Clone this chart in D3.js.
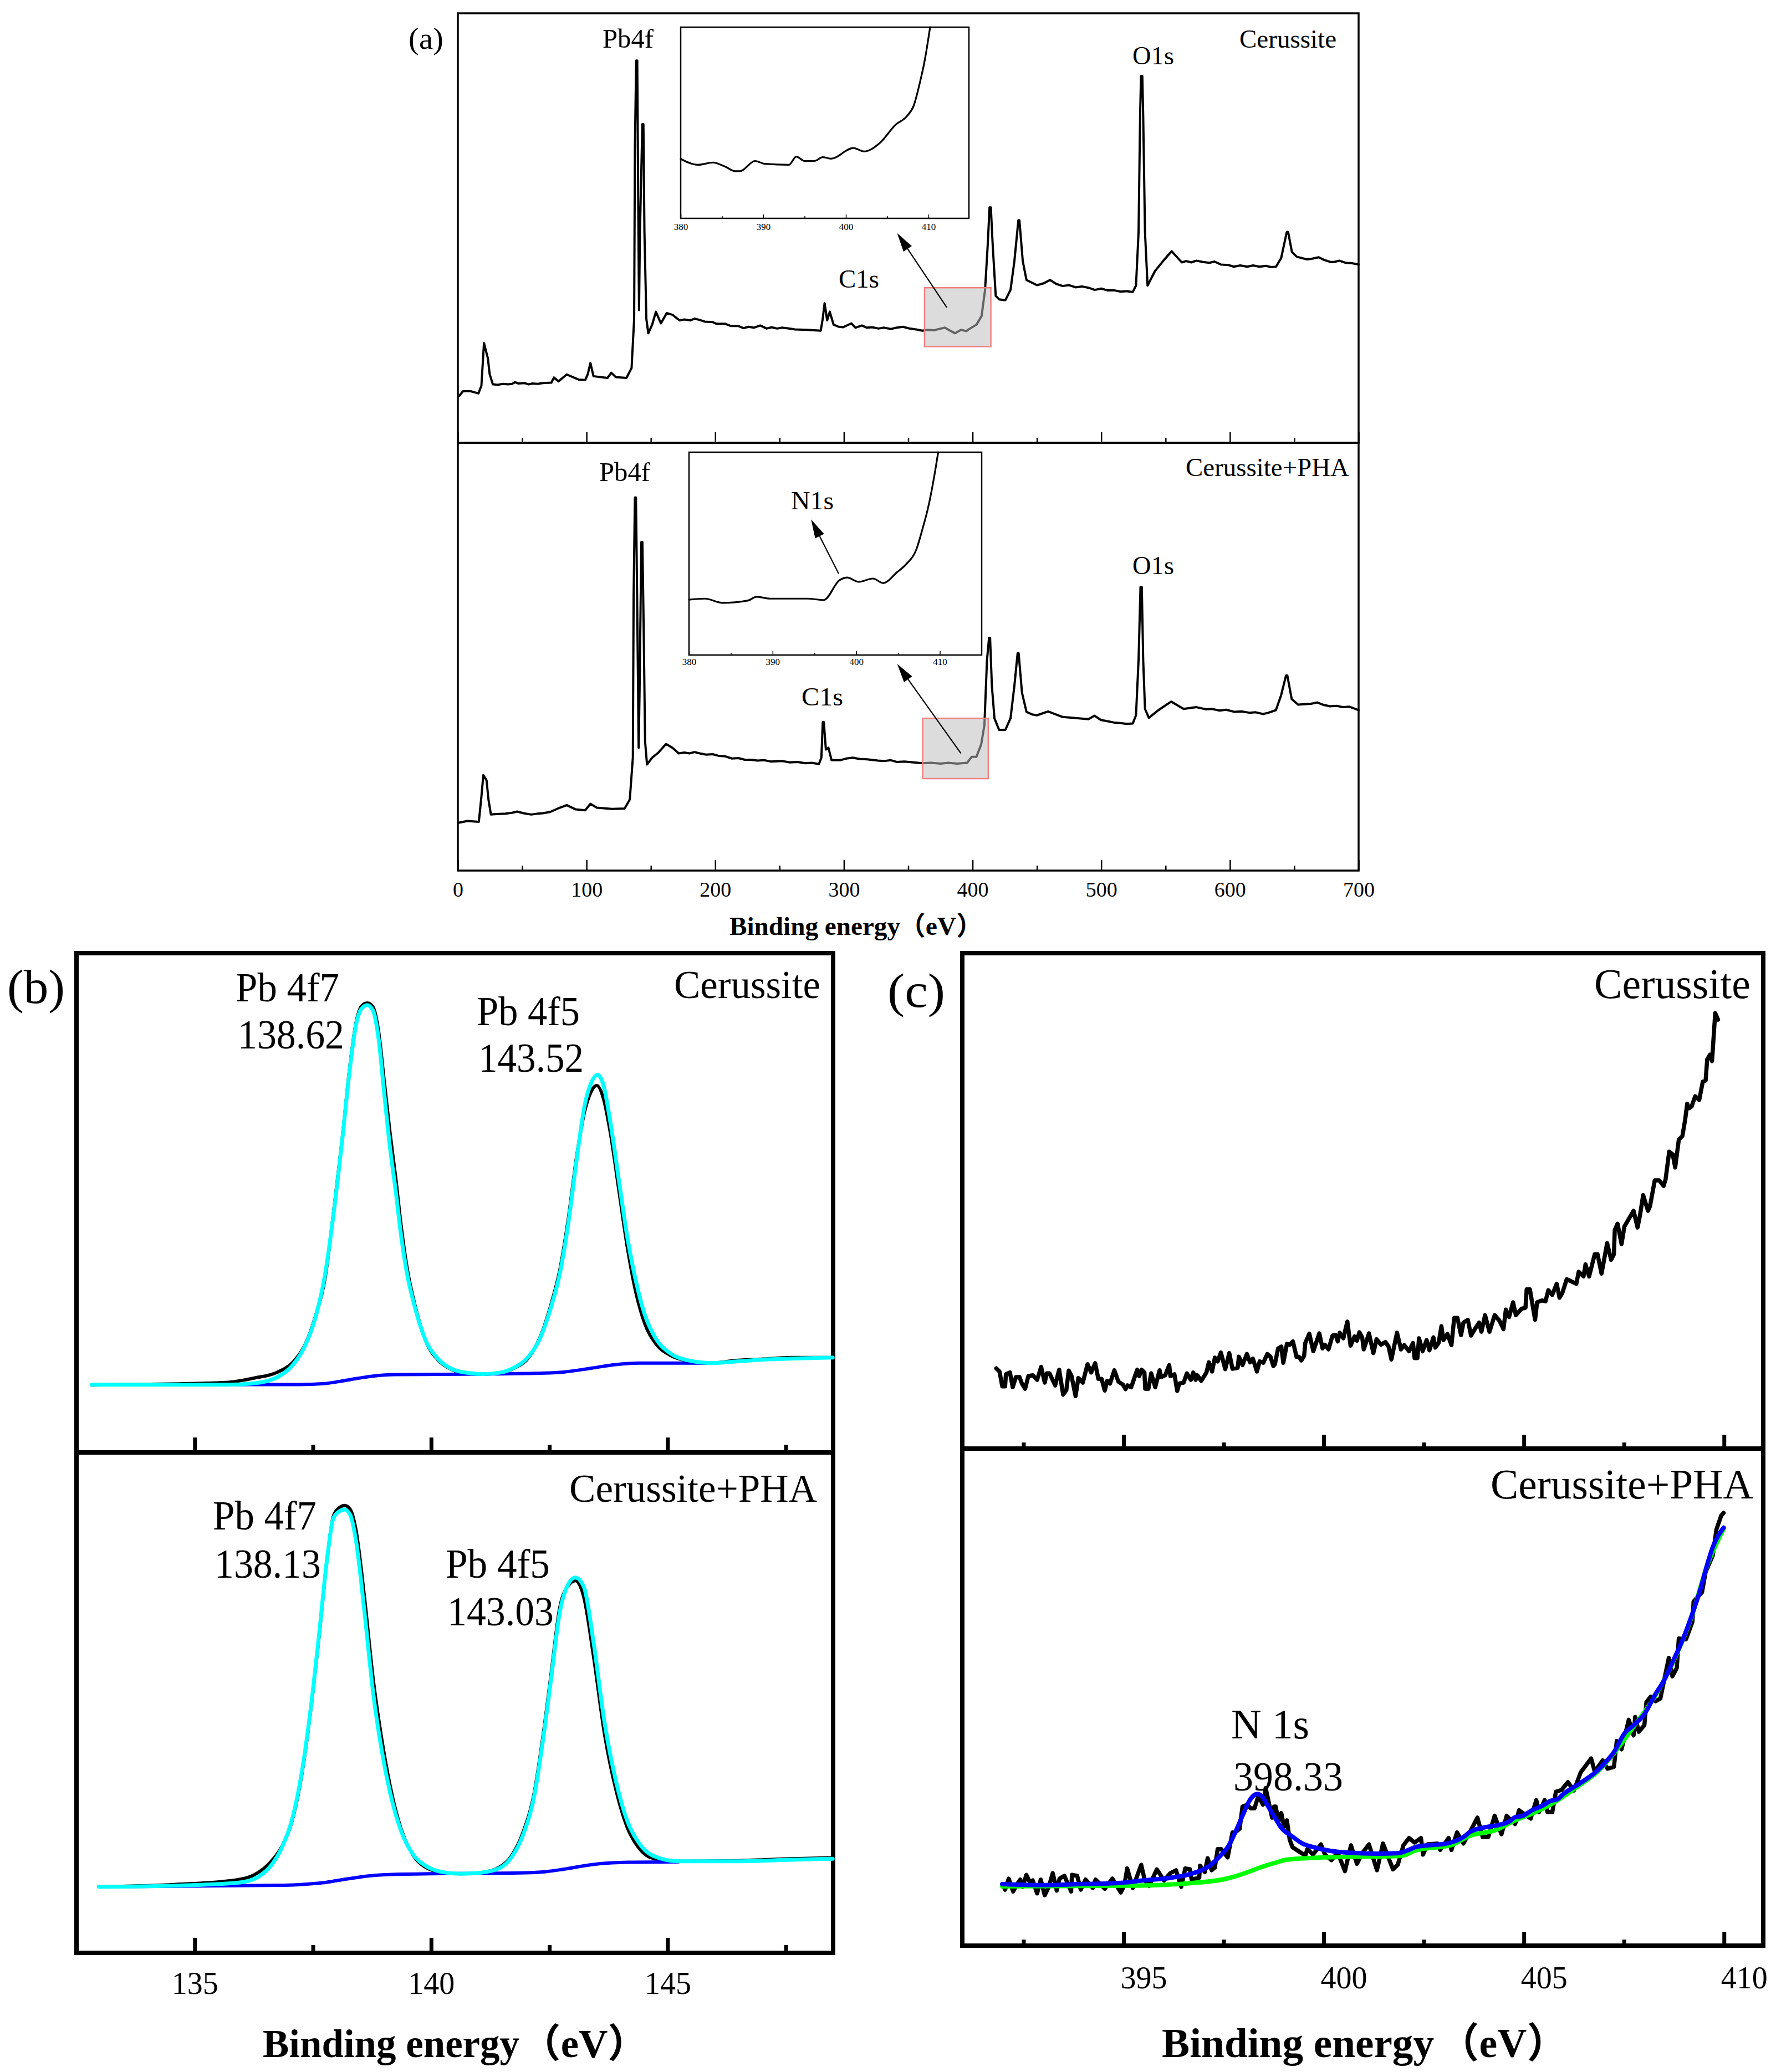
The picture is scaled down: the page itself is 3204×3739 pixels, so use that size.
<!DOCTYPE html>
<html>
<head>
<meta charset="utf-8">
<script src="https://cdn.jsdelivr.net/npm/d3@7"></script>
<style>
  body { margin: 0; background: #fff; }
  text { font-family: "Liberation Serif", "Noto Sans CJK SC", serif; fill: #000; }
</style>
</head>
<body>
<svg id="chart" width="3204" height="3739"></svg>
<script>
// (a) survey spectra, [eV, a.u.]
const surveyCerussite = [[1,10.9],[4,12],[10,12],[16,11.5],[18.3,13.3],[20.3,23.2],[23.3,19.7],[24.7,16],[27.2,13.6],[31,13.5],[35,13.7],[39,13.6],[42,13.7],[44.5,14.1],[47,13.8],[52,13.9],[55,13.6],[58,13.8],[62,13.7],[66,13.9],[72.7,14],[74.7,15.2],[78.2,14.3],[84.6,15.9],[94,14.7],[99,14.6],[101,16],[103,18.6],[105.4,15.5],[116.3,15.1],[119.2,16.3],[122.7,15.3],[131,15.1],[135,17.4],[137,28.8],[137.6,69],[138.6,89],[139.4,89],[140.2,55],[140.8,30.9],[141.5,49],[143.4,74.2],[144.2,74.2],[145,49],[146.5,28.8],[148,25.5],[151,27.5],[153.9,30.5],[157.8,27.8],[162.3,30.2],[166.8,29.8],[172.2,28.5],[176,28.7],[180.6,28.5],[184,28.9],[188,28.6],[192,28.2],[198,28.1],[201,27.7],[207.8,27.7],[212,27.2],[217.7,27.2],[222,26.7],[226,27],[230,26.8],[235,27.3],[240,26.6],[244,26.9],[248,26.6],[252,26.8],[257.3,26.6],[262,26.4],[272,26.3],[282,26.1],[283.5,28.8],[285,32.5],[287,28.5],[289,30.5],[292,27.5],[296,27],[299.4,26.9],[305.8,27.8],[309,26.8],[314,27.3],[317.7,26.8],[322,26.9],[327,26.6],[331,26.8],[336.5,26.5],[341,26.8],[346,27],[351,26.6],[356,26.4],[361,26.1],[365,26.3],[370,26.2],[374,26.5],[378.5,26.8],[382,26.2],[386.4,25.5],[391,26.3],[395,26],[398,26.6],[403,27.5],[407,29.5],[409.7,35.6],[411.7,45.7],[413.2,54.8],[414.2,54.8],[415.7,45.7],[418,34.2],[420.6,33.4],[425.5,33.2],[429.5,35.6],[432.5,42.3],[435.6,51.8],[436.4,51.8],[439,42.3],[441.9,37.9],[450,36.7],[455,37.1],[460.2,37.9],[465,37],[470,36.5],[475,36.7],[480,36.2],[485,36.4],[490,36.1],[495,35.6],[500,35.9],[504.7,35.5],[510,35.5],[515,35.2],[520,35.3],[524.5,35.1],[527,36.6],[529,49],[530.2,76],[530.9,85.4],[531.9,85.4],[532.6,76],[534,49],[536,36.6],[541.8,40],[548,42.3],[554.7,44.6],[562.6,42],[566,42.3],[570,42],[574,42.4],[579,42.1],[584,41.9],[588,42.2],[593,41.5],[598.7,41.4],[603,41],[608,41.3],[613.5,41],[618,41.3],[623,41],[628,41.2],[632,40.9],[635.8,41],[639.8,43],[644.2,49.1],[645.2,49.1],[648.2,44.4],[652,43.3],[656,43],[660,42.7],[663,42.8],[669,43.2],[673,42.6],[678,42.1],[681,42.1],[685,42.4],[690,41.9],[695,41.8],[700,41.5]];
const surveyPha = [[1,11.2],[7.4,11.6],[16.3,11.4],[18.3,17.3],[19.8,22.3],[22.3,21.1],[23.8,16.6],[25.7,13.1],[30,13.2],[37,13.3],[42,13.5],[46,13.8],[51,13.4],[57,13.1],[62,13.3],[66,13.4],[71.7,13.7],[79.2,14.7],[84.6,15.3],[91.6,14.3],[99,14.1],[103,15.6],[108,14.7],[119.8,14.4],[129.6,14.5],[133.6,16.6],[136,26.4],[136.6,64.4],[137.6,87.2],[138.4,87.2],[139.3,64.4],[140.5,28.7],[141.2,41.6],[142.6,76.8],[143.4,76.8],[144.4,56.8],[145.5,30.2],[147,24.8],[151,26.4],[155.9,27.6],[161.8,29.6],[166.8,28.7],[171.7,27.4],[176,27.6],[180,27.4],[184,27.7],[188,27.4],[193,27.1],[198,27.2],[203,26.8],[207.8,26.7],[213,26.2],[218,26.3],[223,25.9],[227.6,25.9],[233,25.7],[238,25.8],[243,25.5],[252.3,25.6],[258,25.3],[264,25.4],[270,25.1],[275,25.2],[280.6,24.9],[282.5,26.4],[283.6,34.7],[284.4,34.7],[286,28.3],[288,28.7],[290.4,25.8],[297,25.8],[302,26.2],[306.8,26.4],[312,26.1],[318,26],[326.5,25.7],[331,25.6],[336.5,25.8],[341,25.4],[347,25.5],[354,25.3],[361,25.1],[368,25.2],[375,25],[381,25.2],[388,25],[395.8,25.2],[399.3,26.6],[403,26.6],[406.7,29.5],[409.2,34],[411.2,49.2],[412.8,54.4],[413.6,54.4],[415,43.2],[417,35.6],[420.6,32.9],[425.5,32.9],[429.5,35.6],[432.5,43.2],[435,50.8],[435.8,50.8],[438.4,41.6],[441.9,37.1],[446.3,36.5],[450,36.3],[458.7,37.2],[470,35.9],[490,35.4],[494.8,36.2],[499.7,35.2],[505,34.9],[510,34.6],[514.5,34.5],[520,34.3],[524.5,34.4],[527,36.3],[529,49.2],[530.5,66.3],[531.5,66.3],[532.6,49.2],[534,37.8],[537,35.7],[544.4,37.5],[554.3,39.5],[564,37.8],[574,38.2],[581.4,37.7],[586,37.8],[592,37.4],[597,37.6],[603.6,37.1],[609,37.2],[615,36.9],[620,37],[625.8,36.6],[630,36.9],[635.7,37.5],[639.7,40.9],[643.6,45.6],[644.6,45.6],[648,40.1],[653,38.8],[658,38.9],[663,39],[667.8,39.3],[672,38.8],[677.6,38.4],[683,38.5],[688,38.2],[693,38.3],[700,37.5]];
const insetCerussite = [[380,31.1],[382.1,28],[383.9,29.2],[385.4,27],[386.6,24.7],[387.2,24.7],[389,30],[390.2,28.5],[393.1,28],[394,32.3],[395,30],[396.2,30],[397.2,32],[398.2,31.2],[400.9,36.8],[402.2,35],[404.2,39.8],[406,48.9],[407.4,53.5],[408.2,58.8],[409,71.7],[409.6,83.8],[410,94.4],[410.2,100]];
const insetPha = [[380,27.3],[381.9,27.8],[384,25.7],[387,26.8],[388.1,28.7],[389.7,27.8],[394.2,27.8],[396.1,27.1],[398,36.9],[398.9,38.2],[400.3,36.1],[402,37.7],[403.2,35.5],[404.9,40.9],[406,44.9],[407.2,52.2],[407.9,61.8],[408.7,74.6],[409.3,87.5],[409.8,100]];

// (b) Pb 4f spectra
const pbCerussiteRaw = [[132.82,13.5],[134.46,13.7],[135.66,14],[136.26,14.9],[136.73,16],[137.09,18.2],[137.33,21.5],[137.57,27.8],[137.75,34.6],[137.93,47.6],[138.11,62],[138.29,78],[138.41,86],[138.53,89.4],[138.65,90],[138.77,89.2],[138.89,84.2],[139,75],[139.13,64],[139.25,55],[139.37,45],[139.49,37],[139.67,29],[139.9,22],[140.14,18.6],[140.44,16.6],[140.8,15.8],[141.1,15.7],[141.46,16],[141.76,16.9],[142.06,19],[142.3,23],[142.54,29.8],[142.72,36.5],[142.9,46.8],[143.08,59.5],[143.25,68.5],[143.37,72],[143.5,73.5],[143.64,71],[143.79,64],[143.97,52.5],[144.15,41],[144.33,32],[144.51,26],[144.75,21.8],[145.05,19.5],[145.41,18.4],[145.95,17.9],[146.42,18.4],[147.02,18.7],[147.62,19],[148.49,19]];
const pbCerussiteFit = [[132.82,13.56],[134.46,13.56],[135.66,13.56],[136.26,13.85],[136.73,15],[137.09,17.7],[137.33,21.3],[137.57,27.6],[137.75,35.3],[137.93,47.3],[138.11,61.8],[138.29,77.6],[138.41,85.6],[138.53,88.9],[138.65,89.6],[138.77,88.5],[138.89,82.7],[139,72.6],[139.13,61],[139.25,52.4],[139.37,43],[139.49,35.8],[139.67,28.6],[139.9,22.1],[140.14,18.8],[140.44,16.7],[140.8,15.9],[141.1,15.7],[141.46,16],[141.76,17],[142.06,19.2],[142.3,22.8],[142.54,29.3],[142.72,35.8],[142.9,45.9],[143.08,58.9],[143.25,69.7],[143.37,73.7],[143.52,75.6],[143.64,73.7],[143.79,66.1],[143.97,54.5],[144.15,43],[144.33,34.3],[144.51,27.8],[144.75,22.8],[145.05,19.9],[145.41,18.5],[145.95,17.9],[146.42,18.2],[147.02,18.6],[147.62,18.8],[148.49,19]];
const pbCerussiteBase = [[132.82,13.56],[137.2,13.6],[137.75,13.8],[138.05,14.2],[138.29,14.6],[138.77,15.3],[139.25,15.6],[141,15.7],[142.4,15.9],[142.8,16.1],[143.4,16.9],[143.9,17.6],[144.4,17.9],[145.8,17.9]];
const pbPhaRaw = [[132.97,13.2],[134.46,13.6],[135.9,14.6],[136.26,15.6],[136.61,18.2],[136.85,21.4],[137.09,27.5],[137.27,36],[137.45,48.3],[137.63,63.3],[137.81,79.6],[137.93,87.2],[138.05,88.9],[138.17,89.4],[138.29,88.6],[138.41,84.5],[138.59,71],[138.77,55],[138.95,43],[139.13,33.5],[139.37,24.6],[139.6,19.8],[139.9,17],[140.26,16],[140.62,15.8],[141.04,16],[141.46,17.2],[141.7,19.4],[141.94,24],[142.18,32],[142.36,43],[142.54,56],[142.72,69],[142.87,73],[143.05,74.4],[143.23,71],[143.43,59.5],[143.67,43.5],[143.91,32.5],[144.15,25],[144.39,21],[144.69,18.9],[145.23,18.3],[146.42,18.4],[147.62,18.8],[148.49,19]];
const pbPhaFit = [[132.97,13.2],[134.46,13.4],[135.9,14],[136.26,14.8],[136.61,17.4],[136.85,21.2],[137.09,27.8],[137.27,36.4],[137.45,48.6],[137.63,63.7],[137.81,79.6],[137.93,86.8],[138.05,88.2],[138.17,88.6],[138.29,87.5],[138.41,82.4],[138.59,68.1],[138.77,52.2],[138.95,40.7],[139.13,32.1],[139.37,24.2],[139.6,19.9],[139.9,17.3],[140.26,16.1],[140.62,15.8],[141.04,16],[141.46,17],[141.7,19.1],[141.94,23.5],[142.18,31.4],[142.36,42.2],[142.54,55.1],[142.72,68.1],[142.87,73.1],[143.05,75],[143.23,73.1],[143.43,62.3],[143.67,45.8],[143.91,34.2],[144.15,26.3],[144.39,22],[144.69,19.4],[145.23,18.3],[146.42,18.3],[147.62,18.6],[148.49,18.8]];
const pbPhaBase = [[132.97,13.2],[136.9,13.5],[137.33,13.7],[137.7,14],[138.05,14.5],[138.7,15.4],[139.25,15.7],[142,16],[142.4,16.2],[142.72,16.6],[143.55,17.8],[144.15,18.1],[145.23,18.2]];

// (c) N 1s spectra
const nCerussiteRaw = [[391.82,144.7],[391.9,139],[391.97,112.3],[392.04,112.3],[392.06,134],[392.16,137.3],[392.23,110.7],[392.31,129],[392.4,129],[392.46,117.3],[392.54,108],[392.62,130.7],[392.73,132.3],[392.84,124],[392.94,147.3],[393.03,119],[393.08,135.7],[393.15,135.7],[393.29,114],[393.39,142.3],[393.49,97.3],[393.57,105.7],[393.63,140.7],[393.7,130.7],[393.8,94.7],[393.87,127.3],[393.98,119],[394.1,152.3],[394.19,137.3],[394.29,154],[394.37,125.7],[394.45,125.7],[394.53,104.7],[394.59,122.3],[394.66,117.3],[394.77,141.3],[394.87,120.7],[394.98,115.7],[395.05,107.3],[395.1,114],[395.19,110.7],[395.34,142.3],[395.39,130.7],[395.45,142.3],[395.52,137.3],[395.54,108],[395.62,108],[395.69,135.7],[395.79,110.7],[395.9,141.3],[395.94,129],[396.04,132.3],[396.14,150.7],[396.17,130.7],[396.27,134],[396.34,104],[396.39,117.3],[396.5,119],[396.58,135.7],[396.68,124],[396.74,137.3],[396.8,124],[396.84,132.3],[396.94,122.3],[397.07,137.3],[397.13,155.7],[397.21,139],[397.28,164],[397.35,157.3],[397.43,173.3],[397.54,143.3],[397.64,172.3],[397.72,144],[397.85,145.7],[397.88,165.7],[397.97,150.7],[398.08,170.7],[398.16,155.7],[398.23,162.3],[398.33,139],[398.4,157.3],[398.49,154.7],[398.59,170.7],[398.67,165.7],[398.74,149],[398.78,152.3],[398.86,180.7],[398.94,184],[398.99,154.7],[399.08,189],[399.15,187.3],[399.23,193.3],[399.32,165.7],[399.38,165.7],[399.44,159],[399.51,167.3],[399.54,190.7],[399.64,207.3],[399.74,175.7],[399.89,208],[399.97,180.7],[400.03,187.3],[400.12,179],[400.22,204],[400.3,204.7],[400.35,193.3],[400.4,209],[400.49,199],[400.59,229],[400.67,185.7],[400.77,202.3],[400.83,194.7],[400.89,210],[400.96,200.7],[401,179],[401.13,208],[401.24,172.3],[401.32,197.3],[401.43,187.3],[401.54,192.3],[401.62,184],[401.69,160.7],[401.83,209],[401.93,179],[402.01,186.7],[402.13,175.7],[402.23,190.7],[402.27,163.3],[402.34,163.3],[402.38,199],[402.47,175.7],[402.57,195.7],[402.64,177.3],[402.74,200.7],[402.79,182.3],[402.87,190.7],[402.94,220.7],[402.99,195.7],[403.09,206.7],[403.19,186.7],[403.26,235.7],[403.34,235.7],[403.43,204.7],[403.49,227.3],[403.6,232.3],[403.68,204],[403.79,217.3],[403.88,227.3],[403.94,210.7],[404.03,240.7],[404.14,210.7],[404.27,240.7],[404.39,230.7],[404.49,215.7],[404.55,250.7],[404.63,237.3],[404.73,264],[404.8,240.7],[404.94,252.3],[405.04,254],[405.07,287.3],[405.15,287.3],[405.28,232.3],[405.33,264],[405.45,267.3],[405.54,265.7],[405.61,285.7],[405.71,277.3],[405.82,297.3],[405.89,272.3],[405.96,280.7],[406.07,305.7],[406.31,297.3],[406.37,319],[406.49,310.7],[406.54,332.3],[406.63,310.7],[406.77,350.7],[406.84,350.7],[406.94,315.7],[407.08,370.7],[407.18,340.7],[407.25,350.7],[407.27,394],[407.34,405.7],[407.44,369],[407.51,400.7],[407.74,429],[407.84,399],[407.9,420.7],[407.98,457.3],[408.1,429],[408.15,437.3],[408.27,484],[408.38,484],[408.49,474],[408.54,485.7],[408.63,535.7],[408.72,530.7],[408.78,507.3],[408.87,557.3],[408.96,564],[409.03,594],[409.08,622.3],[409.12,614],[409.19,617.3],[409.28,635.7],[409.38,629],[409.47,662.3],[409.54,664],[409.58,702.3],[409.65,710.7],[409.7,699],[409.78,785.7],[409.85,774]];
const nPhaRaw = [[391.97,111],[392.04,101],[392.13,121],[392.24,97.7],[392.34,111],[392.42,119.3],[392.48,106],[392.57,127.7],[392.66,114.3],[392.73,117.7],[392.84,94.3],[392.93,119.3],[393.03,91],[393.13,106],[393.23,131],[393.33,99.3],[393.4,121],[393.52,126],[393.69,97.7],[393.71,127.7],[393.84,126],[393.93,101],[394.05,119.3],[394.23,104.3],[394.3,119.3],[394.53,102.7],[394.72,121],[394.93,96],[395.02,109.3],[395.09,139.3],[395.23,104.3],[395.44,146],[395.53,117.7],[395.64,107.7],[395.83,137.7],[396.01,117.7],[396.17,131],[396.31,136],[396.44,106],[396.54,139.3],[396.66,137.7],[396.7,119.3],[396.89,122.7],[396.91,144.3],[397.03,132.7],[397.1,157.7],[397.2,136],[397.28,141],[397.35,174.3],[397.44,174.3],[397.6,159.3],[397.72,204.3],[397.79,204.3],[397.9,211],[397.97,251],[398.09,254.3],[398.18,247.7],[398.27,247.7],[398.37,271],[398.48,254.3],[398.55,284.3],[398.64,254.3],[398.71,231],[398.76,251],[398.8,251],[398.87,224.3],[398.94,239.3],[399.01,214.3],[399.08,226],[399.15,191],[399.22,177.7],[399.36,171],[399.54,162.7],[399.59,174.3],[399.73,164.3],[399.93,182.7],[400.03,164.3],[400.19,154.3],[400.35,167.7],[400.53,134.3],[400.68,181],[400.83,147.7],[400.97,167.7],[401.13,182.7],[401.33,136],[401.48,184.3],[401.73,137.7],[401.85,146],[401.99,181],[402.13,194.3],[402.27,186],[402.43,194.3],[402.48,164.3],[402.59,182.7],[402.84,184.3],[402.91,172.7],[403.12,194.3],[403.19,172.7],[403.33,204.3],[403.49,184.3],[403.67,207.7],[403.84,231],[403.97,196],[404.11,196],[404.27,234.3],[404.44,201],[404.57,234.3],[404.78,219.3],[404.88,244.3],[405.17,229.3],[405.31,262.7],[405.38,241],[405.52,262.7],[405.59,241],[405.71,241],[405.8,277.7],[405.94,281],[406.1,295],[406.25,280],[406.42,312.7],[406.68,337.7],[406.77,314.3],[406.97,334.3],[407.09,319.3],[407.25,322.7],[407.32,369.3],[407.44,354.3],[407.62,407.7],[407.74,379.3],[407.78,412.7],[407.87,386],[408.01,397.7],[408.06,439.3],[408.17,449.3],[408.29,441],[408.41,446],[408.5,477.7],[408.62,519.3],[408.71,486],[408.82,501],[408.87,554.3],[409.05,552.7],[409.21,584.3],[409.24,621],[409.45,637.7],[409.54,674.3],[409.72,704.3],[409.81,751],[409.93,776],[409.99,781]];
const nPhaFit = [[391.97,111],[392.97,109.3],[393.89,111],[394.81,112.7],[395.5,117.7],[396.2,122.7],[396.75,131],[397.12,142.7],[397.4,161],[397.63,181],[397.81,207.7],[397.97,234.3],[398.14,261],[398.25,271],[398.34,273.7],[398.46,269.3],[398.6,252.7],[398.78,231],[398.96,211],[399.2,197.7],[399.47,184.3],[399.75,177.7],[400.17,171],[400.63,167.7],[401.32,166],[401.83,166.7],[402.06,171],[402.33,178.7],[403.07,184.3],[403.49,196],[403.67,206],[404.09,214.3],[404.37,217.7],[404.64,224.3],[404.78,231.7],[404.97,234.3],[405.2,244.3],[405.47,252.7],[405.66,261],[405.84,264.3],[405.97,272.7],[406.4,293],[406.81,314.3],[407.04,331],[407.25,349.3],[407.51,382.7],[407.74,397.7],[408.01,417.7],[408.29,454.3],[408.52,481],[408.71,511],[408.98,554.3],[409.17,591],[409.4,641],[409.58,687.7],[409.72,719.3],[409.99,754.3]];
const nPhaBase = [[391.97,107],[393.89,107.7],[395.27,108.3],[396.66,112.7],[397.58,121],[398.04,131],[398.41,141],[398.78,149.3],[399.06,155],[399.7,158.3],[400.63,160.3],[401.92,161.7],[402.33,172.7],[403.17,181],[403.63,197.7],[404.32,209.3],[404.78,226],[405.24,239.3],[405.7,256],[406.4,290],[406.81,312],[407.25,347],[407.74,395],[408.29,452],[408.71,509],[409.17,589],[409.58,686],[409.99,752]];

const surveyTicks = d3.range(0, 701, 100);
const surveyMinor = d3.range(50, 700, 100);
const insetTicks = [380, 390, 400, 410];
const insetMinor = [385, 395, 405];
const pbTicks = [135, 140, 145];
const pbMinor = [137.5, 142.5, 147.5];
const nTicks = [395, 400, 405, 410];
const nMinor = [392.5, 397.5, 402.5, 407.5];
const axisWords = 'Binding energy';
const axisUnit = '（eV）';

const svg = d3.select('#chart');
svg.append('rect').attr('width', 3204).attr('height', 3739).attr('fill', '#fff');

const label = (txt, x, y, size, width, weight) => {
    const t = svg.append('text')
        .attr('x', x).attr('y', y)
        .style('font-size', `${size}px`)
        .text(txt);
    if (width) t.attr('textLength', width).attr('lengthAdjust', 'spacingAndGlyphs');
    if (weight) t.style('font-weight', weight);
    return t;
};

// frame + inward ticks for one panel, returns scales and group
const panel = (box, xDomain, yDomain, major, minor, o) => {
    const x = d3.scaleLinear().domain(xDomain).range([box.x0, box.x1]);
    const y = d3.scaleLinear().domain(yDomain).range([box.y1, box.y0]);
    const g = svg.append('g');
    const tickAxis = (values, size, width) => {
        const a = g.append('g')
            .attr('transform', `translate(0,${box.y1})`)
            .call(d3.axisTop(x).tickValues(values).tickSize(size).tickFormat(''));
        a.select('.domain').remove();
        a.selectAll('line').attr('stroke', '#000').attr('stroke-width', width);
    };
    tickAxis(major, o.majorLen, o.tickWidth);
    tickAxis(minor, o.minorLen, o.tickWidth);
    g.append('rect')
        .attr('x', box.x0).attr('y', box.y0)
        .attr('width', box.x1 - box.x0).attr('height', box.y1 - box.y0)
        .attr('fill', 'none').attr('stroke', '#000').attr('stroke-width', o.frame);
    return { x, y, g, box };
};

const tickLabels = (p, values, baseline, size, shift, fill) => {
    const a = p.g.append('g')
        .attr('transform', `translate(${shift},${baseline})`)
        .call(d3.axisBottom(p.x).tickValues(values).tickSize(0).tickFormat(d3.format('d')));
    a.select('.domain').remove();
    a.selectAll('text')
        .attr('y', 0).attr('dy', 0)
        .style('font-size', `${size}px`)
        .style('font-family', '"Liberation Serif", serif')
        .attr('fill', fill || '#000');
};

const drawLine = (p, pts, color, width, smooth) => {
    const line = d3.line()
        .x(d => p.x(d[0])).y(d => p.y(d[1]))
        .curve(smooth ? d3.curveMonotoneX : d3.curveLinear);
    p.g.append('path').datum(pts)
        .attr('d', line)
        .attr('fill', 'none').attr('stroke', color).attr('stroke-width', width)
        .attr('stroke-linejoin', 'round').attr('stroke-linecap', 'round');
};

const arrow = (p, from, to) => {
    const x1 = p.x(from[0]), y1 = p.y(from[1]), x2 = p.x(to[0]), y2 = p.y(to[1]);
    const ang = Math.atan2(y2 - y1, x2 - x1);
    const len = 34, half = 9;
    const bx = x2 - len * Math.cos(ang), by = y2 - len * Math.sin(ang);
    p.g.append('line').attr('x1', x1).attr('y1', y1).attr('x2', bx).attr('y2', by)
        .attr('stroke', '#000').attr('stroke-width', 2.2);
    p.g.append('polygon')
        .attr('points', [[x2, y2],
            [bx + half * Math.sin(ang), by - half * Math.cos(ang)],
            [bx - half * Math.sin(ang), by + half * Math.cos(ang)]].join(' '))
        .attr('fill', '#000');
};

const shade = (p, x0, x1, v0, v1) => {
    p.g.append('rect')
        .attr('x', p.x(x0)).attr('y', p.y(v1))
        .attr('width', p.x(x1) - p.x(x0)).attr('height', p.y(v0) - p.y(v1))
        .attr('fill', 'rgb(189,189,189)').attr('fill-opacity', 0.53)
        .attr('stroke', '#f08080').attr('stroke-width', 2.5);
};

// ---- (a)
const surveyOpts = { majorLen: 19, minorLen: 9, tickWidth: 2.5, frame: 3.5 };
const insetOpts = { majorLen: 7, minorLen: 4, tickWidth: 1.5, frame: 2.5 };

const aTop = panel({ x0: 826, x1: 2451, y0: 24, y1: 799 }, [0, 700], [0, 100], surveyTicks, surveyMinor, surveyOpts);
drawLine(aTop, surveyCerussite, '#000', 4);
shade(aTop, 362.7, 414.2, 22.4, 36.1);
arrow(aTop, [380, 31.5], [341.4, 48.8]);

const aBottom = panel({ x0: 826, x1: 2451, y0: 799, y1: 1571 }, [0, 700], [0, 100], surveyTicks, surveyMinor, surveyOpts);
drawLine(aBottom, surveyPha, '#000', 4);
shade(aBottom, 361.2, 412.2, 21.5, 35.6);
arrow(aBottom, [390.9, 27.4], [341.4, 48.3]);
tickLabels(aBottom, surveyTicks, 1618, 38, 0);

const insetTop = panel({ x0: 1228, x1: 1748, y0: 49, y1: 394 }, [380, 414.9], [0, 100], insetTicks, insetMinor, insetOpts);
drawLine(insetTop, insetCerussite, '#000', 3.2, true);
tickLabels(insetTop, insetTicks, 415, 17, 0, '#1a2a3a');

const insetBottom = panel({ x0: 1243, x1: 1771, y0: 816, y1: 1182 }, [380, 415], [0, 100], insetTicks, insetMinor, insetOpts);
drawLine(insetBottom, insetPha, '#000', 3.2, true);
tickLabels(insetBottom, insetTicks, 1200, 17, 0, '#1a2a3a');
arrow(insetBottom, [397.9, 40.1], [394.6, 66.9]);

label('(a)', 737, 88, 54, 63);
label('Pb4f', 1087, 86, 48, 92);
label('Cerussite', 2236, 86, 47, 175);
label('O1s', 2043, 116, 46, 75);
label('C1s', 1513, 519, 46, 73);
label('Pb4f', 1081, 868, 48, 92);
label('Cerussite+PHA', 2139, 859, 47, 295);
label('N1s', 1427, 919, 46, 77);
label('O1s', 2043, 1036, 46, 75);
label('C1s', 1446, 1273, 46, 75);
label(axisWords, 1316, 1687, 47, 308, 'bold');
label(axisUnit, 1622, 1687, 47, 151, 'bold');

// ---- (b)
const bOpts = { majorLen: 27, minorLen: 14, tickWidth: 7, frame: 8 };
const bTop = panel({ x0: 138, x1: 1503, y0: 1720, y1: 2621 }, [132.5, 148.5], [0, 100], pbTicks, pbMinor, bOpts);
drawLine(bTop, pbCerussiteRaw, '#000', 6, true);
drawLine(bTop, pbCerussiteBase, '#0000ff', 6, true);
drawLine(bTop, pbCerussiteFit, '#00ffff', 7, true);

const bBottom = panel({ x0: 138, x1: 1503, y0: 2621, y1: 3524 }, [132.5, 148.5], [0, 100], pbTicks, pbMinor, bOpts);
drawLine(bBottom, pbPhaRaw, '#000', 6, true);
drawLine(bBottom, pbPhaBase, '#0000ff', 6, true);
drawLine(bBottom, pbPhaFit, '#00ffff', 7, true);
tickLabels(bBottom, pbTicks, 3598, 56, 0);

label('(b)', 13, 1810, 86, 104);
label('Pb 4f7', 425, 1807, 74, 187);
label('138.62', 429, 1892, 74, 192);
label('Pb 4f5', 860, 1850, 74, 186);
label('143.52', 863, 1934, 74, 190);
label('Cerussite', 1216, 1801, 72, 264);
label('Cerussite+PHA', 1027, 2710, 72, 447);
label('Pb 4f7', 384, 2760, 74, 187);
label('138.13', 387, 2847, 74, 192);
label('Pb 4f5', 804, 2847, 74, 188);
label('143.03', 807, 2933, 74, 192);
label(axisWords, 474, 3712, 71, 463, 'bold');
label(axisUnit, 939, 3712, 71, 230, 'bold');

// ---- (c)
const cOpts = { majorLen: 25, minorLen: 11, tickWidth: 7, frame: 8 };
const cTop = panel({ x0: 1736, x1: 3181, y0: 1720, y1: 2614 }, [390.97, 410.98], [0, 894], nTicks, nMinor, cOpts);
drawLine(cTop, nCerussiteRaw, '#000', 7.5);

const cBottom = panel({ x0: 1736, x1: 3181, y0: 2614, y1: 3511 }, [390.97, 410.98], [0, 897], nTicks, nMinor, cOpts);
drawLine(cBottom, nPhaRaw, '#000', 7.5);
drawLine(cBottom, nPhaBase, '#00ff00', 8, true);
drawLine(cBottom, nPhaFit, '#0000ff', 8, true);
tickLabels(cBottom, nTicks, 3588, 56, 36);

label('(c)', 1601, 1817, 86, 104);
label('Cerussite', 2876, 1801, 76, 282);
label('Cerussite+PHA', 2689, 2704, 76, 474);
label('N 1s', 2221, 3137, 76, 141);
label('398.33', 2225, 3231, 74, 198);
label(axisWords, 2096, 3712, 74, 491, 'bold');
label(axisUnit, 2595, 3712, 74, 233, 'bold');
</script>
</body>
</html>
